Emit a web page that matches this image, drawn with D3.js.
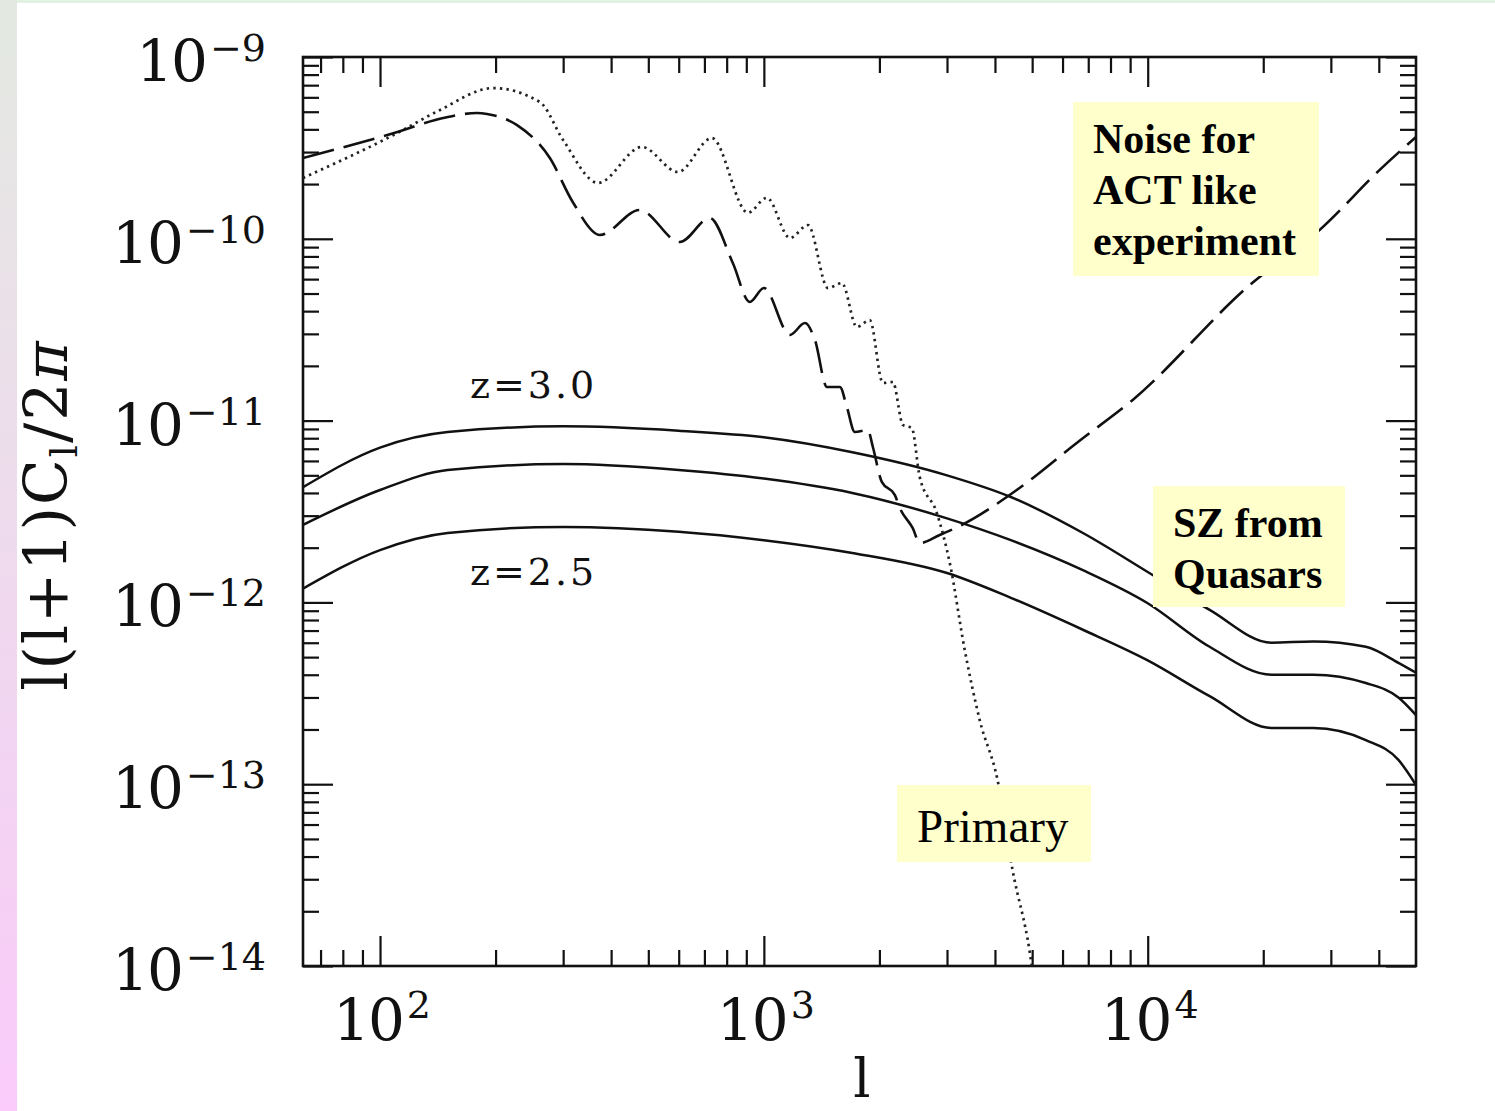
<!DOCTYPE html>
<html>
<head>
<meta charset="utf-8">
<script src="https://cdn.jsdelivr.net/npm/d3@7"></script>
<style>
  body { margin: 0; background: #fff; }
  svg { display: block; }
</style>
</head>
<body>
<div id="chart"></div>
<script>
// SZ power spectrum from quasar winds, three redshifts
const szEll = [63, 100, 150, 300, 600, 1000, 1700, 3000, 4400, 6800, 10000, 14500, 21000, 27000, 37000, 45000, 50000];
const szZ30 = [4.3e-12, 7.1e-12, 8.65e-12, 9.3e-12, 8.8e-12, 8.1e-12, 6.7e-12, 5.0e-12, 3.8e-12, 2.4e-12, 1.47e-12, 9.1e-13, 6.0e-13, 6.1e-13, 5.7e-13, 4.65e-13, 4.1e-13];
const szZ275 = [2.67e-12, 4.15e-12, 5.35e-12, 5.77e-12, 5.35e-12, 4.8e-12, 4.0e-12, 2.9e-12, 2.2e-12, 1.5e-12, 9.9e-13, 5.7e-13, 4.0e-13, 4.0e-13, 3.6e-13, 3.0e-13, 2.4e-13];
const szZ25 = [1.19e-12, 1.94e-12, 2.41e-12, 2.6e-12, 2.45e-12, 2.2e-12, 1.87e-12, 1.45e-12, 1.06e-12, 7.05e-13, 4.8e-13, 3.05e-13, 2.04e-13, 2.04e-13, 1.75e-13, 1.36e-13, 9.9e-14];

// primary CMB (dotted)
const primaryEll = [63, 111, 143, 197, 261, 300, 370, 481, 597, 732, 909, 1018, 1169, 1303, 1469, 1597, 1747, 1888, 2042, 2168, 2303, 2429, 2547, 2823, 3050, 3337, 3651, 4064, 4446, 4929, 4990];
const primaryCl = [2.16e-10, 3.82e-10, 5.1e-10, 6.75e-10, 5.65e-10, 3.49e-10, 2.03e-10, 3.2e-10, 2.33e-10, 3.58e-10, 1.39e-10, 1.68e-10, 1.01e-10, 1.19e-10, 5.36e-11, 5.71e-11, 3.27e-11, 3.57e-11, 1.61e-11, 1.63e-11, 9.46e-12, 9.1e-12, 4.9e-12, 3.1e-12, 1.65e-12, 5.47e-13, 2.25e-13, 1.05e-13, 3.37e-14, 1.19e-14, 1.0e-14];

// beam-smoothed CMB + noise for an ACT-like experiment (dashed)
const noiseEll = [63, 111, 146, 179, 190, 227, 277, 318, 374, 475, 604, 723, 830, 919, 1000, 1169, 1280, 1359, 1460, 1578, 1645, 1726, 1866, 1923, 2029, 2193, 2261, 2443, 2547, 2871, 3238, 4558, 6531, 9140, 18450, 28070, 40930, 50000];
const noiseCl = [2.78e-10, 3.87e-10, 4.62e-10, 4.92e-10, 4.86e-10, 4.23e-10, 2.78e-10, 1.59e-10, 1.05e-10, 1.44e-10, 9.6e-11, 1.3e-10, 7.36e-11, 4.49e-11, 5.36e-11, 2.96e-11, 3.44e-11, 2.77e-11, 1.53e-11, 1.53e-11, 1.19e-11, 8.65e-12, 8.87e-12, 7.16e-12, 4.6e-12, 3.9e-12, 3.3e-12, 2.56e-12, 2.12e-12, 2.35e-12, 2.63e-12, 4.15e-12, 7.53e-12, 1.3e-11, 5.57e-11, 1.12e-10, 2.48e-10, 3.63e-10];

// axis ticks
const xMajor = [100, 1000, 10000];
const xMinor = [70, 80, 90, 200, 300, 400, 500, 600, 700, 800, 900, 2000, 3000, 4000, 5000, 6000, 7000, 8000, 9000, 20000, 30000, 40000];
const yExponents = [-9, -10, -11, -12, -13, -14];
const xExponents = [2, 3, 4];

const W = 1495, H = 1111;
const plot = { left: 303, right: 1416, top: 57, bottom: 966 };

const svg = d3.select("#chart").append("svg")
  .attr("width", W).attr("height", H);

// slide background strips
const defs = svg.append("defs");
const grad = defs.append("linearGradient").attr("id", "leftGrad")
  .attr("x1", 0).attr("y1", 0).attr("x2", 0).attr("y2", 1);
grad.append("stop").attr("offset", "0%").attr("stop-color", "#e3e9e1");
grad.append("stop").attr("offset", "100%").attr("stop-color", "#facbfa");
svg.append("rect").attr("x", 0).attr("y", 0).attr("width", 17).attr("height", H).attr("fill", "url(#leftGrad)");
svg.append("rect").attr("x", 17).attr("y", 0).attr("width", W - 17).attr("height", 3).attr("fill", "#e2f1e2");

defs.append("clipPath").attr("id", "plotClip")
  .append("rect")
  .attr("x", plot.left).attr("y", plot.top)
  .attr("width", plot.right - plot.left).attr("height", plot.bottom - plot.top);

const x = d3.scaleLog().domain([63, 50000]).range([plot.left, plot.right]);
const y = d3.scaleLog().domain([1e-9, 1e-14]).range([plot.top, plot.bottom]);

// y minor ticks: 2..9 in every decade
const yMajor = yExponents.map(e => Math.pow(10, e));
const yMinor = [];
yExponents.slice(1).forEach(e => {
  for (let k = 2; k <= 9; k++) yMinor.push(k * Math.pow(10, e));
});

const axisStyle = g => {
  g.select(".domain").remove();
  g.selectAll("line").attr("stroke", "#111").attr("stroke-width", 2.2);
};

// ticks on all four sides, pointing inward
[[xMajor, 30], [xMinor, 16]].forEach(([vals, len]) => {
  svg.append("g").attr("transform", `translate(0,${plot.bottom})`)
    .call(d3.axisBottom(x).tickValues(vals).tickSizeInner(-len).tickSizeOuter(0).tickFormat(""))
    .call(axisStyle);
  svg.append("g").attr("transform", `translate(0,${plot.top})`)
    .call(d3.axisTop(x).tickValues(vals).tickSizeInner(-len).tickSizeOuter(0).tickFormat(""))
    .call(axisStyle);
});
[[yMajor, 30], [yMinor, 16]].forEach(([vals, len]) => {
  svg.append("g").attr("transform", `translate(${plot.left},0)`)
    .call(d3.axisLeft(y).tickValues(vals).tickSizeInner(-len).tickSizeOuter(0).tickFormat(""))
    .call(axisStyle);
  svg.append("g").attr("transform", `translate(${plot.right},0)`)
    .call(d3.axisRight(y).tickValues(vals).tickSizeInner(-len).tickSizeOuter(0).tickFormat(""))
    .call(axisStyle);
});

svg.append("rect")
  .attr("x", plot.left).attr("y", plot.top)
  .attr("width", plot.right - plot.left).attr("height", plot.bottom - plot.top)
  .attr("fill", "none").attr("stroke", "#111").attr("stroke-width", 2.6);

// tick labels
const labelFont = "'DejaVu Serif', serif";
const yLab = svg.append("g").attr("font-family", labelFont).attr("fill", "#111");
yExponents.forEach(e => {
  const t = yLab.append("text")
    .attr("x", 266).attr("y", y(Math.pow(10, e)) + 24)
    .attr("text-anchor", "end");
  t.append("tspan").attr("font-size", 58).attr("letter-spacing", -2).text("10");
  t.append("tspan").attr("font-size", 38).attr("dy", -20).attr("dx", 4).text("\u2212" + Math.abs(e));
});

const xLab = svg.append("g").attr("font-family", labelFont).attr("fill", "#111");
xExponents.forEach(e => {
  const t = xLab.append("text")
    .attr("x", x(Math.pow(10, e)) + 2).attr("y", 1040)
    .attr("text-anchor", "middle");
  t.append("tspan").attr("font-size", 58).attr("letter-spacing", -2).text("10");
  t.append("tspan").attr("font-size", 38).attr("dy", -22).attr("dx", 4).text(String(e));
});

// axis titles
svg.append("text")
  .attr("x", 862).attr("y", 1097)
  .attr("text-anchor", "middle")
  .attr("font-family", labelFont).attr("font-size", 54).attr("fill", "#111")
  .text("l");

const yTitle = svg.append("text")
  .attr("transform", "translate(67,515) rotate(-90)")
  .attr("text-anchor", "middle")
  .attr("font-family", labelFont).attr("font-size", 60).attr("fill", "#111")
  .attr("letter-spacing", 2);
yTitle.append("tspan").text("l(l+1)C");
yTitle.append("tspan").attr("font-size", 38).attr("dy", 10).text("l");
yTitle.append("tspan").attr("dy", -10).text("/2");
yTitle.append("tspan").attr("font-style", "italic").text("\u03c0");

// curves
const line = d3.line()
  .x(d => x(d[0]))
  .y(d => y(d[1]))
  .curve(d3.curveMonotoneX);

const curves = svg.append("g").attr("clip-path", "url(#plotClip)").attr("fill", "none");

[szZ30, szZ275, szZ25].forEach(vals => {
  curves.append("path")
    .attr("d", line(d3.zip(szEll, vals)))
    .attr("stroke", "#111").attr("stroke-width", 2.5);
});

curves.append("path")
  .attr("d", line(d3.zip(primaryEll, primaryCl)))
  .attr("stroke", "#222").attr("stroke-width", 2.7)
  .attr("stroke-dasharray", "2.4,4.2");

curves.append("path")
  .attr("d", line(d3.zip(noiseEll, noiseCl)))
  .attr("stroke", "#111").attr("stroke-width", 2.6)
  .attr("stroke-dasharray", "32,10");

// redshift labels
svg.append("text").attr("x", 470).attr("y", 398)
  .attr("font-family", labelFont).attr("font-size", 38).attr("letter-spacing", 3).attr("fill", "#111")
  .text("z=3.0");
svg.append("text").attr("x", 470).attr("y", 585)
  .attr("font-family", labelFont).attr("font-size", 38).attr("letter-spacing", 3).attr("fill", "#111")
  .text("z=2.5");

// yellow annotation boxes
const notes = [
  { x: 1073, y: 102, w: 246, h: 174, tx: 1093, lines: ["Noise for", "ACT like", "experiment"], base: 153, step: 51, size: 42, weight: "bold" },
  { x: 1153, y: 486, w: 192, h: 121, tx: 1173, lines: ["SZ from", "Quasars"], base: 537, step: 51, size: 42, weight: "bold" },
  { x: 897, y: 785, w: 194, h: 77, tx: 917, lines: ["Primary"], base: 842, step: 0, size: 47, weight: "normal" }
];
notes.forEach(n => {
  svg.append("rect")
    .attr("x", n.x).attr("y", n.y).attr("width", n.w).attr("height", n.h)
    .attr("fill", "#ffffcc");
  n.lines.forEach((s, i) => {
    svg.append("text")
      .attr("x", n.tx).attr("y", n.base + i * n.step)
      .attr("font-family", "'Liberation Serif', 'Times New Roman', serif")
      .attr("font-size", n.size).attr("font-weight", n.weight).attr("fill", "#000")
      .text(s);
  });
});
</script>
</body>
</html>
